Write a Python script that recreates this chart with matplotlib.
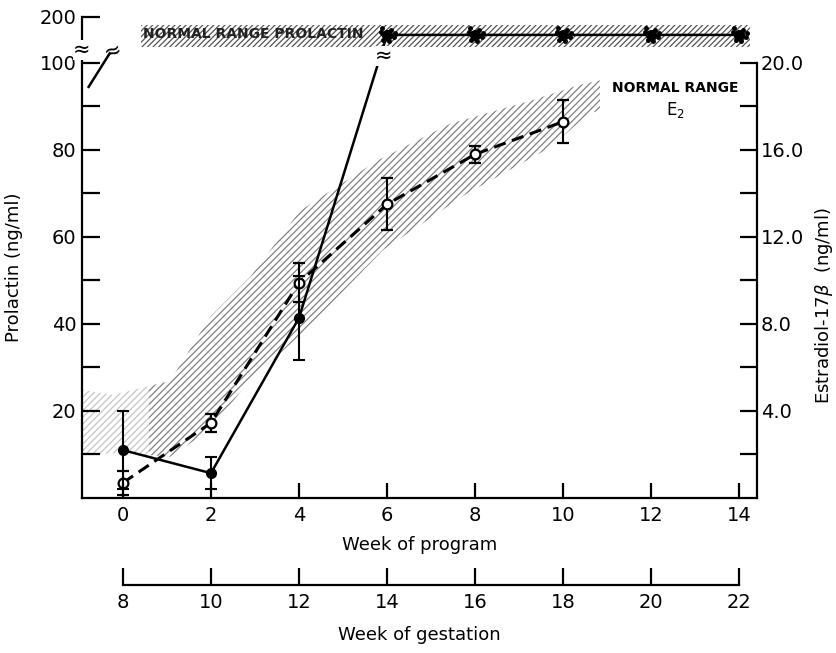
import numpy as np
import matplotlib.pyplot as plt

# prolactin (ng/ml), solid line, filled circles
weeks = [0, 2, 4, 6, 8, 10, 12, 14]
prolactin = [11.0, 5.7, 41.4, 161, 161, 161, 161, 161]
prolactin_err = [9.0, 3.7, 9.7, 0, 0, 0, 0, 0]

# individual prolactin values scattered around the top points
cluster_dx = [-0.14, -0.08, 0.08, 0.15, 0.04, -0.11, 0.19]
cluster_v = [168, 151, 172, 156, 147, 175, 165]

# estradiol (ng/ml), dashed line, open circles
e2_weeks = [0, 2, 4, 6, 8, 10]
e2 = [0.7, 3.45, 9.9, 13.5, 15.8, 17.3]
e2_err = [0.55, 0.4, 0.9, 1.2, 0.4, 1.0]

# normal range of E2 (hatched band)
band_hi_x = [-0.93, -0.23, 1.07, 1.98, 2.89, 4.02, 5.77, 7.43, 9.32, 10.39, 10.84]
band_hi_y = [4.97, 4.74, 5.38, 8.32, 10.16, 13.2, 15.5, 17.2, 18.3, 19.0, 19.2]
band_lo_x = [-0.93, 0.0, 1.07, 1.98, 2.89, 4.09, 5.91, 7.82, 9.7, 10.6, 10.84]
band_lo_y = [1.98, 2.07, 1.89, 3.13, 5.43, 7.59, 11.4, 14.0, 16.1, 17.7, 17.8]

# normal range of prolactin (top band)
prl_range_x = [0.4, 14.25]
prl_range_lo = 135
prl_range_hi = 182

gest_ticks = [8, 10, 12, 14, 16, 18, 20, 22]

S = 0.1057  # compression above the break


def fwd(v):
    v = np.asarray(v, dtype=float)
    return np.where(v <= 100, v, 100 + (v - 100) * S)


def inv(u):
    u = np.asarray(u, dtype=float)
    return np.where(u <= 100, u, 100 + (u - 100) / S)


plt.rcParams['font.family'] = 'DejaVu Sans'
plt.rcParams['hatch.linewidth'] = 0.9

fig = plt.figure(figsize=(8.37, 6.53), dpi=100)
ax = fig.add_axes([0.098, 0.2374, 0.806, 0.7366])
ax2 = ax.twinx()
ax.set_zorder(ax2.get_zorder() + 1)
ax.patch.set_visible(False)

ax.set_yscale('function', functions=(fwd, inv))
ax.set_ylim(0, 200)
ax.set_xlim(-0.93, 14.4)
ax2.set_ylim(0, float(fwd(200)) / 5)

# E2 normal range band
ax2.fill(band_hi_x + band_lo_x[::-1], band_hi_y + band_lo_y[::-1],
         facecolor='none', edgecolor='#808080', hatch='/////', lw=0, zorder=1)
ax2.axvspan(-0.93, 0.6, color='white', alpha=0.55, lw=0, zorder=1.5)
ax2.text(12.55, 18.85, 'NORMAL RANGE', ha='center', va='center', fontsize=10, fontweight='bold')
ax2.text(12.55, 17.85, 'E$_2$', ha='center', va='center', fontsize=12)

ax2.errorbar(e2_weeks, e2, yerr=e2_err, color='black', lw=2.2, ls=(0, (4, 2.2)),
             marker='o', ms=7, mfc='white', mec='black', mew=1.6,
             ecolor='black', elinewidth=1.5, capsize=4.5, capthick=1.5, zorder=3)

# prolactin normal range band
ax.fill_between(prl_range_x, prl_range_lo, prl_range_hi, facecolor='none',
                edgecolor='#555555', hatch='//////', lw=0, zorder=1)
ax.text(0.45, 163, 'NORMAL RANGE PROLACTIN', ha='left', va='center', fontsize=10,
        fontweight='bold', color='#222222', zorder=2)

ax.errorbar(weeks, prolactin, yerr=prolactin_err, color='black', lw=1.8,
            marker='o', ms=7, mfc='black', mec='black',
            ecolor='black', elinewidth=1.5, capsize=4.5, capthick=1.5, zorder=4)
for w in weeks[3:]:
    ax.plot([w + d for d in cluster_dx], cluster_v, 'o', color='black', ms=2.5, zorder=4)

# break marks
ax.text(5.92, 115, '≈', ha='center', va='center', fontsize=15, zorder=5,
        bbox=dict(facecolor='white', edgecolor='none', pad=0))
ax.plot([-0.78, -0.3], [94.5, 121], color='black', lw=1.8, zorder=4)
ax.text(-0.22, 127, '≈', ha='center', va='center', fontsize=15, rotation=20, zorder=5)
ax.text(-0.93, 128, '≈', ha='center', va='center', fontsize=15, zorder=5, clip_on=False,
        bbox=dict(facecolor='white', edgecolor='none', pad=0))

# axes styling
for sp in ['top', 'right']:
    ax.spines[sp].set_visible(False)
for sp in ['top', 'left', 'bottom']:
    ax2.spines[sp].set_visible(False)
ax2.spines['right'].set_bounds(0, 20)
for a in [ax, ax2]:
    for sp in a.spines.values():
        sp.set_linewidth(1.6)

ax.set_yticks([20, 40, 60, 80, 100, 200])
ax.set_yticklabels(['20', '40', '60', '80', '100', '200'])
ax.set_yticks([10, 30, 50, 70, 90], minor=True)
ax.yaxis.set_minor_formatter(plt.NullFormatter())
ax.set_xticks(weeks)
ax.tick_params(axis='both', which='both', direction='in', length=13, width=1.6,
               labelsize=14, pad=4)
ax.tick_params(axis='x', length=11, pad=6)

ax2.set_yticks([4, 8, 12, 16, 20])
ax2.set_yticklabels(['4.0', '8.0', '12.0', '16.0', '20.0'])
ax2.set_yticks([2, 6, 10, 14, 18], minor=True)
ax2.yaxis.set_minor_formatter(plt.NullFormatter())
ax2.tick_params(axis='y', which='both', direction='in', length=12, width=1.6,
                labelsize=14, pad=3)

ax.set_xlabel('Week of program', fontsize=13, labelpad=8)
ax.set_ylabel('Prolactin (ng/ml)', fontsize=13)
ax.yaxis.set_label_coords(-0.088, 0.48)
ax2.set_ylabel(r'Estradiol-17$\beta$  (ng/ml)', fontsize=13)
ax2.yaxis.set_label_coords(1.084, 0.40)

gest = ax.secondary_xaxis(-0.181, functions=(lambda x: x + 8, lambda x: x - 8))
gest.set_xticks(gest_ticks)
gest.spines['bottom'].set_bounds(8, 22)
gest.spines['bottom'].set_linewidth(1.6)
gest.tick_params(direction='in', length=12, width=1.6, labelsize=14, pad=6)
gest.set_xlabel('Week of gestation', fontsize=13, labelpad=10)

fig.savefig('out.png', dpi=100)
